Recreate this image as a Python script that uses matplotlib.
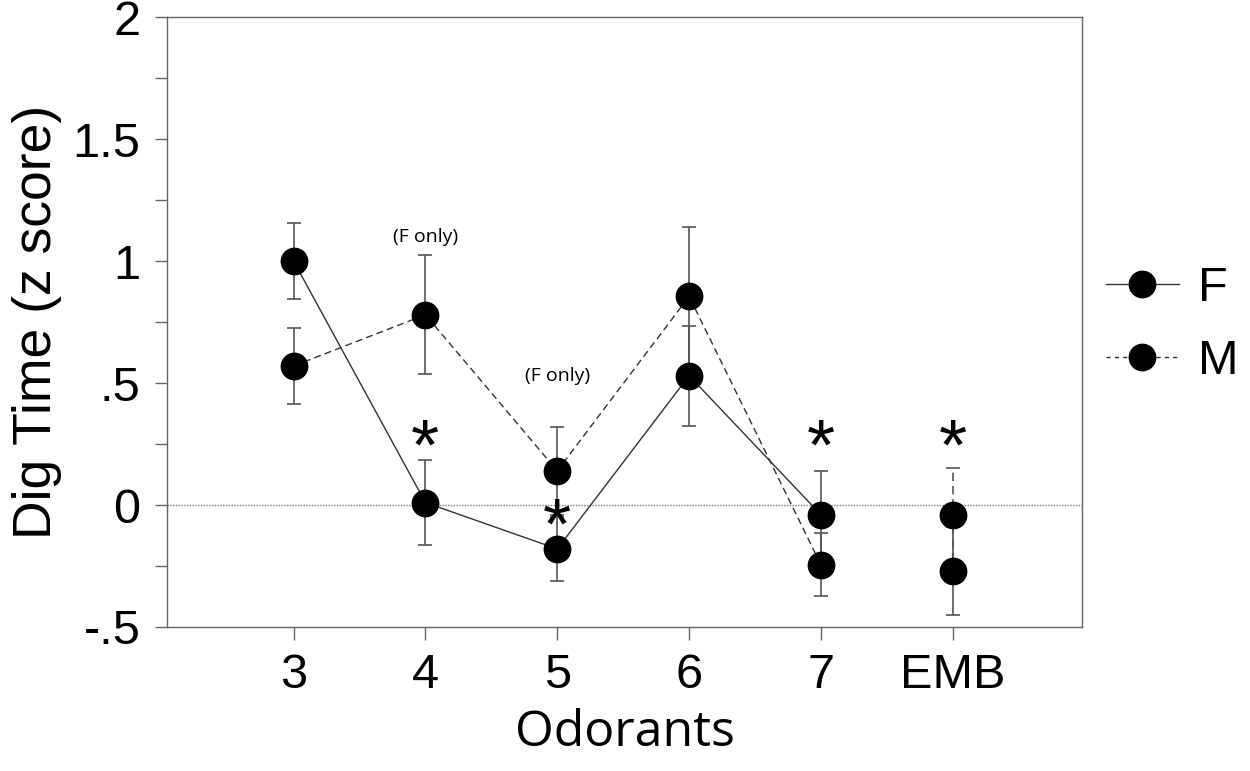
import numpy as np
import matplotlib.pyplot as plt
from matplotlib.lines import Line2D

plt.rcParams['font.family'] = ['Liberation Sans', 'DejaVu Sans']

odorants = ['3', '4', '5', '6', '7', 'EMB']
f_mean = [1.0, 0.01, -0.18, 0.53, -0.04, -0.27]
f_err = [0.155, 0.175, 0.13, 0.205, 0.18, 0.18]
m_mean = [0.57, 0.78, 0.14, 0.855, -0.245, -0.04]
m_err = [0.155, 0.245, 0.18, 0.285, 0.13, 0.19]
stars = {'4': 0.25, '5': -0.07, '7': 0.25, 'EMB': 0.25}
f_only = {'4': 1.10, '5': 0.53}

x = np.arange(1, len(odorants) + 1)
line_c = '#333333'
err_c = '#555555'

fig = plt.figure(figsize=(12.5, 7.71), dpi=100)
ax = fig.add_axes([0.1336, 0.1868, 0.732, 0.791])

ax.axhline(0, color='#777777', lw=1, ls=(0, (1, 1)), zorder=1)

# connected lines for 3..7, EMB stands alone
ax.plot(x[:5], f_mean[:5], color=line_c, lw=1, zorder=2)
ax.plot(x[:5], m_mean[:5], color=line_c, lw=1, ls=(0, (5, 3)), zorder=2)

ax.errorbar(x, f_mean, yerr=f_err, fmt='none', ecolor=err_c, elinewidth=1.2,
            capsize=5, capthick=1.2, zorder=3)
ax.errorbar(x[:5], m_mean[:5], yerr=m_err[:5], fmt='none', ecolor=err_c,
            elinewidth=1.2, capsize=5, capthick=1.2, zorder=3)
eb = ax.errorbar(x[5:], m_mean[5:], yerr=m_err[5:], fmt='none', ecolor=err_c,
                 elinewidth=1.2, capsize=5, capthick=1.2, zorder=3)
eb[2][0].set_linestyle((0, (5, 3)))

ax.plot(x, f_mean, 'o', color='black', ms=19, ls='none', zorder=4)
ax.plot(x, m_mean, 'o', color='black', ms=19, ls='none', zorder=4)

for lab, yv in stars.items():
    ax.text(odorants.index(lab) + 1, yv, '*', ha='center', va='center_baseline',
            fontsize=52, zorder=5)
for lab, yv in f_only.items():
    ax.text(odorants.index(lab) + 1, yv, '(F only)', ha='center', va='center',
            fontsize=14, family=['Open Sans', 'DejaVu Sans'])

ax.set_xlim(0.04, 6.98)
ax.set_ylim(-0.5, 2)
ax.set_xticks(x)
ax.set_xticklabels(odorants)
ax.set_yticks([-0.5, 0, 0.5, 1, 1.5, 2])
ax.set_yticklabels(['-.5', '0', '.5', '1', '1.5', '2'])
ax.set_yticks(np.arange(-0.5, 2.01, 0.25), minor=True)
ax.tick_params(axis='both', which='major', labelsize=35, length=9, width=1,
               color='#666666', direction='out')
ax.tick_params(axis='y', which='major', pad=10)
ax.tick_params(axis='x', which='major', pad=10)
ax.tick_params(axis='y', which='minor', length=9, width=1, color='#666666')
for s in ax.spines.values():
    s.set_color('#666666')
    s.set_linewidth(1)

ax.set_xlabel('Odorants', fontsize=36, labelpad=7, family=['Open Sans', 'DejaVu Sans'])
ax.set_ylabel('Dig Time (z score)', fontsize=38.5, labelpad=8)

handles = [Line2D([], [], color=line_c, lw=1, marker='o', ms=19, mfc='black', mec='black'),
           Line2D([], [], color=line_c, lw=1, ls=(0, (3, 3)), marker='o', ms=19,
                  mfc='black', mec='black')]
ax.legend(handles, ['F', 'M'], loc='center left', bbox_to_anchor=(0.978, 0.495),
          frameon=False, fontsize=35, handlelength=1.5, labelspacing=0.56,
          handletextpad=0.4)

fig.savefig('out.png', dpi=100)
